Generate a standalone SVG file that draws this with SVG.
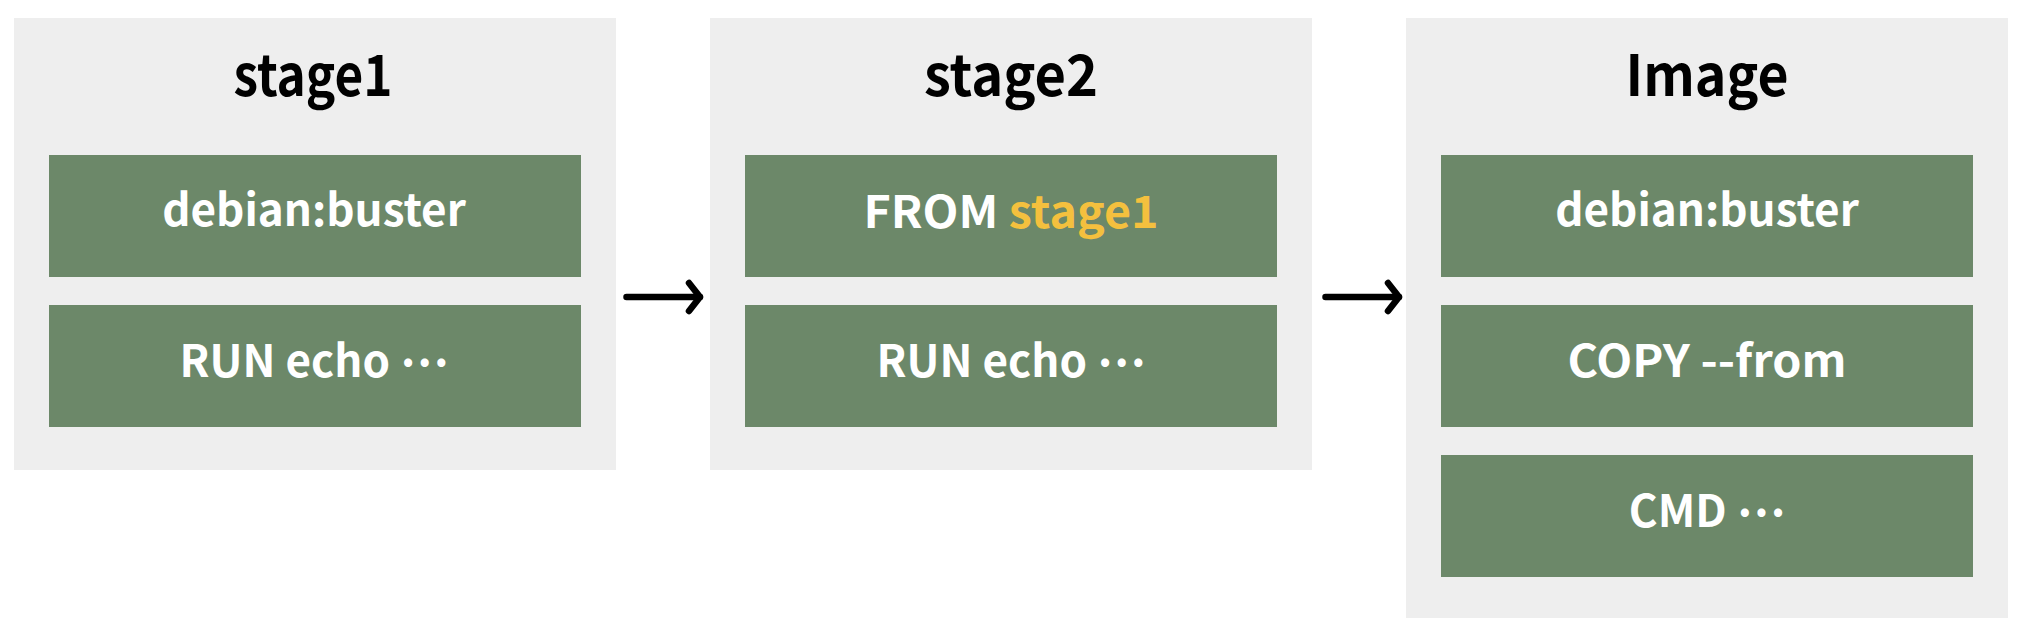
<svg xmlns="http://www.w3.org/2000/svg" width="2024" height="634" viewBox="0 0 2024 634">
<defs>
<style>
.panel{fill:#eeeeee}
.box{fill:#6c8869}
.title{font-family:"Noto Sans CJK KR","Noto Sans",sans-serif;font-weight:700;font-size:57px;fill:#000;text-anchor:middle}
.lbl{font-family:"Noto Sans CJK KR","Noto Sans",sans-serif;font-weight:700;font-size:44px;fill:#ffffff;text-anchor:middle}
.hl{fill:#f4c03e}
.conn{fill:none;stroke:#000;stroke-width:6.5;stroke-linecap:round}
</style>
<marker id="arr" markerUnits="userSpaceOnUse" viewBox="-16 -18 20 36" refX="0" refY="0" markerWidth="20" markerHeight="36" orient="auto" overflow="visible">
<path d="M-11,-14 L0,0 L-11,14" fill="none" stroke="#000" stroke-width="6.5" stroke-linecap="round" stroke-linejoin="round"/>
</marker>
</defs>
<rect width="2024" height="634" fill="#ffffff"/>
<g id="stage1">
<rect class="panel" x="14" y="18" width="602" height="452"/>
<text class="title" x="313" y="96" textLength="159" lengthAdjust="spacingAndGlyphs">stage1</text>
<g id="stage1-base">
<rect class="box" x="49" y="155" width="532" height="122"/>
<text class="lbl" x="314" y="226">debian:buster</text>
</g>
<g id="stage1-run">
<rect class="box" x="49" y="305" width="532" height="122"/>
<text class="lbl" x="314" y="377">RUN echo <tspan dy="-11">…</tspan></text>
</g>
</g>
<g id="stage2">
<rect class="panel" x="710" y="18" width="602" height="452"/>
<text class="title" x="1011" y="96" textLength="174" lengthAdjust="spacingAndGlyphs">stage2</text>
<g id="stage2-from">
<rect class="box" x="745" y="155" width="532" height="122"/>
<text class="lbl" x="1011" y="228" textLength="295" lengthAdjust="spacingAndGlyphs">FROM <tspan class="hl">stage1</tspan></text>
</g>
<g id="stage2-run">
<rect class="box" x="745" y="305" width="532" height="122"/>
<text class="lbl" x="1011" y="377">RUN echo <tspan dy="-11">…</tspan></text>
</g>
</g>
<g id="image">
<rect class="panel" x="1406" y="18" width="602" height="600"/>
<text class="title" x="1707" y="96" textLength="163" lengthAdjust="spacingAndGlyphs">Image</text>
<g id="image-base">
<rect class="box" x="1441" y="155" width="532" height="122"/>
<text class="lbl" x="1707" y="226">debian:buster</text>
</g>
<g id="image-copy">
<rect class="box" x="1441" y="305" width="532" height="122"/>
<text class="lbl" x="1707" y="377" textLength="279" lengthAdjust="spacingAndGlyphs">COPY --from</text>
</g>
<g id="image-cmd">
<rect class="box" x="1441" y="455" width="532" height="122"/>
<text class="lbl" x="1707" y="527">CMD <tspan dy="-11">…</tspan></text>
</g>
</g>
<g id="connectors">
<path class="conn" d="M626.5,297 H700" marker-end="url(#arr)"/>
<path class="conn" d="M1325.5,297 H1399" marker-end="url(#arr)"/>
</g>
</svg>
